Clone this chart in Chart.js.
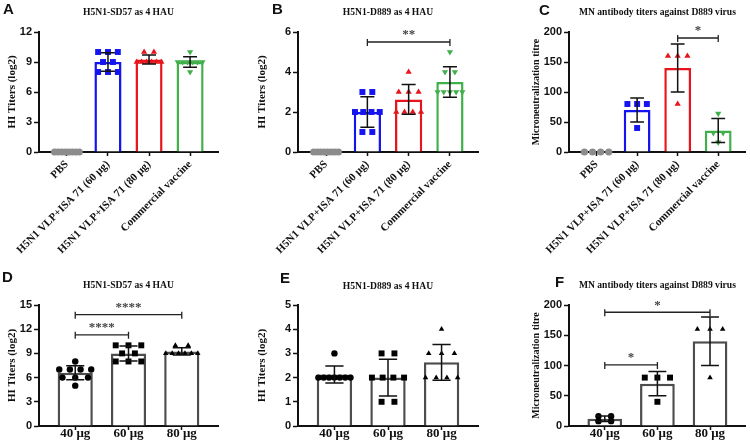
<!DOCTYPE html>
<html lang="en">
<head>
<meta charset="UTF-8" />
<title>HI and MN antibody titers</title>
<script src="https://cdn.jsdelivr.net/npm/chart.js"></script>
<style>
  body { margin: 0; background: #fff; }
  #fig { position: relative; width: 750px; height: 447px; overflow: hidden; }
  #fig canvas { position: absolute; }
</style>
</head>
<body>
<div id="fig">
  <canvas id="cA" width="250" height="260" style="left:0;top:0"></canvas>
  <canvas id="cB" width="250" height="260" style="left:250px;top:0"></canvas>
  <canvas id="cC" width="250" height="260" style="left:500px;top:0"></canvas>
  <canvas id="cD" width="250" height="197" style="left:0;top:250px"></canvas>
  <canvas id="cE" width="250" height="197" style="left:250px;top:250px"></canvas>
  <canvas id="cF" width="250" height="197" style="left:500px;top:250px"></canvas>
</div>
<script>
// groups
const groupsTop = ["PBS", "H5N1 VLP+ISA 71 (60 μg)", "H5N1 VLP+ISA 71 (80 μg)", "Commercial vaccine"];
const groupsDose = ["40 μg", "60 μg", "80 μg"];

// A - HI titers vs SD57
const aPoints = [[0,0,0,0,0,0,0,0], [10,10,10,9,9,8,8,8], [10,10,9,9,9,9,9,9], [10,9,9,9,9,9,9,8]];
const aMean = [0, 9, 9.25, 9];
const aSD = [0, 0.93, 0.46, 0.53];

// B - HI titers vs D889
const bPoints = [[0,0,0,0,0,0,0,0], [3,3,2,2,2,2,1,1], [4,3,3,3,2,2,2,2], [5,4,4,3,3,3,3,3]];
const bMean = [0, 2, 2.63, 3.5];
const bSD = [0, 0.76, 0.74, 0.76];

// C - MN titers vs D889
const cPoints = [[0,0,0,0], [80,80,80,40], [160,160,160,80], [64,32,32,16]];
const cMean = [0, 70, 140, 36];
const cSD = [0, 20, 40, 20];

// D - dose, SD57
const dPoints = [[8,7,7,7,7,6,6,6,5], [10,10,10,9,9,8,8,8], [10,10,9,9,9,9,9,9]];
const dMean = [6.6, 9, 9.25];
const dSD = [0.88, 0.93, 0.46];

// E - dose, D889
const ePoints = [[3,2,2,2,2,2,2,2], [3,3,2,2,2,2,1,1], [4,3,3,3,2,2,2,2]];
const eMean = [2.13, 2, 2.63];
const eSD = [0.35, 0.76, 0.74];

// F - dose, MN
const fPoints = [[16,16,8,8], [80,80,80,40], [160,160,160,80]];
const fMean = [12, 70, 140];
const fSD = [4.6, 20, 40];

// significance brackets
const bSig = [{ from: 1, to: 3, y: 5.5, text: "**" }];
const cSig = [{ from: 2, to: 3, y: 190, text: "*" }];
const dSig = [{ from: 0, to: 2, y: 13.8, text: "****" }, { from: 0, to: 1, y: 11.3, text: "****" }];
const fSig = [{ from: 0, to: 2, y: 188, text: "*" }, { from: 0, to: 1, y: 101, text: "*" }];

const SERIF = "'Liberation Serif', 'Times New Roman', serif";
const SANS = "'Liberation Sans', Arial, sans-serif";
const INK = "#111";

const topColors = ["#8c8c8c", "#1414f0", "#e8141c", "#40b04a"];
const topStyles = [["circle", 0], ["rect", 0], ["triangle", 0], ["triangle", 180]];
const doseColors = ["#4d4d4d", "#4d4d4d", "#4d4d4d"];
const doseStyles = [["circle", 0], ["rect", 0], ["triangle", 0]];

// spread points that share a value sideways (GraphPad style)
function spread(values) {
  const seen = {};
  values.forEach((v) => (seen[v] = (seen[v] || 0) + 1));
  const used = {};
  return values.map((v) => {
    const n = seen[v];
    const k = used[v] || 0;
    used[v] = k + 1;
    if (n === 1) return 0;
    const half = Math.min(0.3, 0.12 * (n - 1));
    return -half + (2 * half * k) / (n - 1);
  });
}

const extrasPlugin = {
  id: "extras",
  afterDatasetsDraw(chart, args, opts) {
    const ctx = chart.ctx;
    const xs = chart.scales.x, ys = chart.scales.y;
    const cap = 0.17 * (xs.getPixelForValue(1) - xs.getPixelForValue(0));
    ctx.save();
    ctx.strokeStyle = INK;
    ctx.lineWidth = 1.5;
    opts.mean.forEach((m, i) => {
      const sd = opts.sd[i];
      if (!sd) return;
      const x = xs.getPixelForValue(i);
      const y1 = ys.getPixelForValue(m + sd);
      const y0 = ys.getPixelForValue(m - sd);
      ctx.beginPath();
      ctx.moveTo(x, y0); ctx.lineTo(x, y1);
      ctx.moveTo(x - cap, y1); ctx.lineTo(x + cap, y1);
      ctx.moveTo(x - cap, y0); ctx.lineTo(x + cap, y0);
      ctx.stroke();
    });
    ctx.restore();
  },
  afterDraw(chart, args, opts) {
    const ctx = chart.ctx;
    const xs = chart.scales.x, ys = chart.scales.y;
    const area = chart.chartArea;
    ctx.save();
    // brackets
    ctx.strokeStyle = "#222";
    ctx.lineWidth = 1.3;
    (opts.sig || []).forEach((s) => {
      const xa = xs.getPixelForValue(s.from), xb = xs.getPixelForValue(s.to);
      const y = ys.getPixelForValue(s.y);
      ctx.beginPath();
      ctx.moveTo(xa, y); ctx.lineTo(xb, y);
      ctx.moveTo(xa, y - 3); ctx.lineTo(xa, y + 4);
      ctx.moveTo(xb, y - 3); ctx.lineTo(xb, y + 4);
      ctx.stroke();
      ctx.fillStyle = "#444";
      ctx.font = "bold 13px " + SERIF;
      ctx.textAlign = "center";
      ctx.textBaseline = "middle";
      ctx.fillText(s.text, (xa + xb) / 2, y - 7);
    });
    // title and panel letter
    ctx.fillStyle = INK;
    ctx.font = "bold 9.6px " + SERIF;
    ctx.textAlign = "center";
    ctx.textBaseline = "middle";
    ctx.fillText(opts.title, (area.left + area.right) / 2, opts.titleY);
    ctx.font = "bold 15px " + SANS;
    ctx.textAlign = "left";
    ctx.fillText(opts.letter, opts.letterX, opts.letterY);
    ctx.restore();
  },
};

function makePanel(p) {
  const n = p.labels.length;
  const datasets = [
    {
      type: "bar",
      data: p.mean.map((m, i) => ({ x: i, y: m })),
      backgroundColor: "#fff",
      borderColor: p.colors,
      borderWidth: (c) => (c.raw && c.raw.y === 0 ? 0 : 2.5),
      barPercentage: 0.66,
      categoryPercentage: 1,
      order: 2,
    },
  ];
  p.points.forEach((vals, i) => {
    const off = spread(vals);
    datasets.push({
      type: "scatter",
      data: vals.map((v, k) => ({ x: i + off[k], y: v })),
      pointStyle: p.styles[i][0],
      rotation: p.styles[i][1],
      pointRadius: p.styles[i][0] === "rect" ? 4.2 : p.dotR,
      backgroundColor: p.dotColors[i],
      borderColor: p.dotColors[i],
      borderWidth: 0,
      clip: false,
      order: 1,
    });
  });

  new Chart(document.getElementById(p.canvas), {
    type: "bar",
    data: { datasets },
    options: {
      responsive: false,
      animation: false,
      devicePixelRatio: 1,
      layout: { padding: { left: p.padL, top: p.padT, right: p.padR, bottom: 0 } },
      plugins: {
        legend: { display: false },
        tooltip: { enabled: false },
        extras: {
          mean: p.mean, sd: p.sd, sig: p.sig, title: p.title,
          titleY: p.titleY, letter: p.letter, letterX: p.letterX, letterY: p.letterY,
        },
      },
      scales: {
        x: {
          type: "linear",
          min: -0.68,
          max: n - 1 + 0.68,
          bounds: "data",
          offset: false,
          afterBuildTicks: (s) => { s.ticks = p.labels.map((_, i) => ({ value: i })); },
          afterFit: (s) => { s.height = p.xh; },
          grid: { display: true, drawOnChartArea: false, offset: false, tickLength: 4, tickWidth: 1.5, tickColor: INK },
          border: { color: INK, width: 2 },
          ticks: {
            autoSkip: false,
            minRotation: p.rot, maxRotation: p.rot,
            padding: p.rot ? 2 : -4,
            color: INK,
            font: { family: SERIF, weight: "bold", size: p.xFont },
            callback: (v, i) => p.labels[i],
          },
        },
        y: {
          min: 0,
          max: p.yMax,
          afterFit: (s) => { s.width = p.yw; },
          grid: { display: true, drawOnChartArea: false, tickLength: 5, tickWidth: 1.5, tickColor: INK },
          border: { color: INK, width: 2 },
          ticks: { stepSize: p.yStep, padding: 2, color: INK, font: { family: SANS, weight: "bold", size: 11 } },
          title: {
            display: true, text: p.yTitle, color: INK,
            font: { family: SERIF, weight: "bold", size: p.yTitleSize },
            padding: { top: 6, bottom: 0 },
          },
        },
      },
    },
    plugins: [extrasPlugin],
  });
}

const topRow = { labels: groupsTop, colors: topColors, dotColors: topColors, styles: topStyles, dotR: 3.6, padT: 32, xh: 108, rot: 45, xFont: 11, titleY: 13 };
const doseRow = { labels: groupsDose, colors: doseColors, dotColors: ["#000", "#000", "#000"], styles: doseStyles, dotR: 3.2, padT: 55, xh: 21, rot: 0, xFont: 13 };

makePanel({ ...topRow, canvas: "cA", letter: "A", letterX: 3, letterY: 10, title: "H5N1-SD57 as 4 HAU",
  yTitle: "HI Titers (log2)", yTitleSize: 11, yMax: 12, yStep: 3, padL: 0, yw: 39, padR: 32,
  points: aPoints, mean: aMean, sd: aSD, sig: [] });
makePanel({ ...topRow, canvas: "cB", letter: "B", letterX: 22, letterY: 10, title: "H5N1-D889 as 4 HAU",
  yTitle: "HI Titers (log2)", yTitleSize: 11, yMax: 6, yStep: 2, padL: 0, yw: 48, padR: 22,
  points: bPoints, mean: bMean, sd: bSD, sig: bSig });
makePanel({ ...topRow, canvas: "cC", letter: "C", letterX: 39, letterY: 11, title: "MN antibody titers against D889 virus",
  yTitle: "Microneutralization titre", yTitleSize: 10, yMax: 200, yStep: 50, padL: 24, yw: 45, padR: 2,
  points: cPoints, mean: cMean, sd: cSD, sig: cSig });
makePanel({ ...doseRow, canvas: "cD", letter: "D", letterX: 2, letterY: 28, titleY: 36, title: "H5N1-SD57 as 4 HAU",
  yTitle: "HI Titers (log2)", yTitleSize: 11, yMax: 15, yStep: 3, padL: 0, yw: 39, padR: 32,
  points: dPoints, mean: dMean, sd: dSD, sig: dSig });
makePanel({ ...doseRow, canvas: "cE", letter: "E", letterX: 30, letterY: 29, titleY: 37, title: "H5N1-D889 as 4 HAU",
  yTitle: "HI Titers (log2)", yTitleSize: 11, yMax: 5, yStep: 1, padL: 0, yw: 48, padR: 22,
  points: ePoints, mean: eMean, sd: eSD, sig: [] });
makePanel({ ...doseRow, canvas: "cF", letter: "F", letterX: 55, letterY: 33, titleY: 36, title: "MN antibody titers against D889 virus",
  yTitle: "Microneutralization titre", yTitleSize: 10, yMax: 200, yStep: 50, padL: 24, yw: 45, padR: 2,
  points: fPoints, mean: fMean, sd: fSD, sig: fSig });
</script>
</body>
</html>
